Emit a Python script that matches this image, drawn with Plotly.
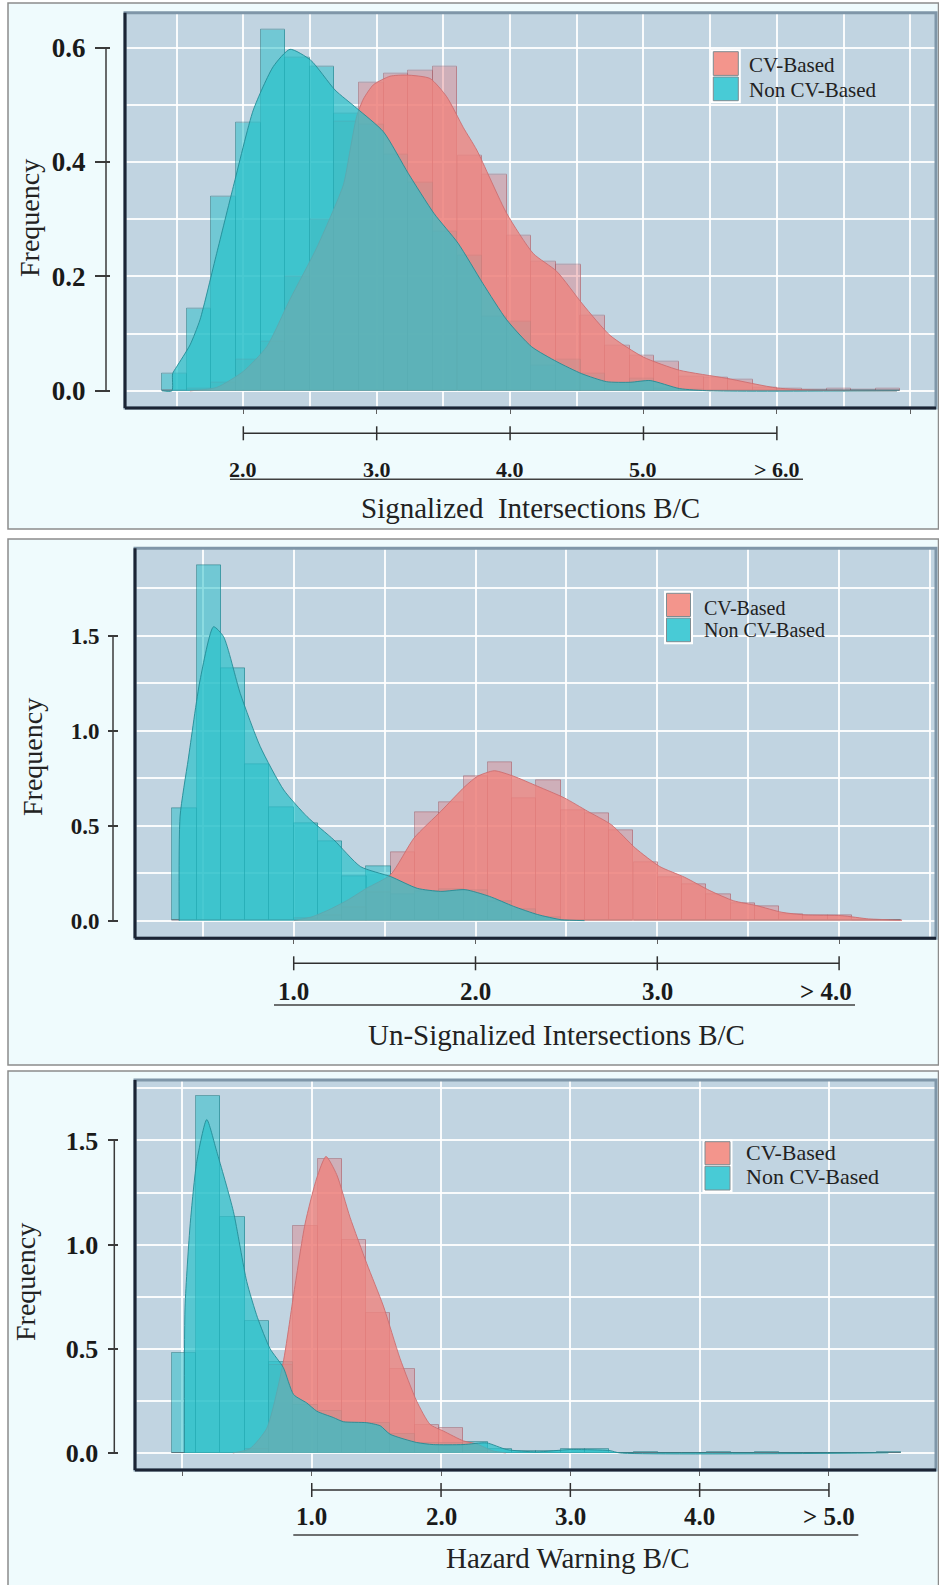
import plotly.graph_objects as go

W, H = 939, 1585

# ---------------- Signalized intersections ----------------
SIG_BIN_W = 0.1845
SIG_CENTERS = [1.484, 1.668, 1.853, 2.037, 2.222, 2.406, 2.591, 2.775, 2.960, 3.144,
               3.329, 3.513, 3.698, 3.882, 4.067, 4.251, 4.436, 4.620, 4.805, 4.989,
               5.174, 5.358, 5.543, 5.727, 5.912, 6.096, 6.281, 6.465, 6.650, 6.834]
SIG_CV = [0.0, 0.004, 0.015, 0.054, 0.086, 0.20, 0.30, 0.47, 0.539, 0.554,
          0.560, 0.566, 0.411, 0.377, 0.271, 0.226, 0.220, 0.132, 0.079, 0.061,
          0.051, 0.025, 0.023, 0.019, 0.006, 0.004, 0.002, 0.003, 0.002, 0.004]
SIG_NONCV = [0.03, 0.144, 0.339, 0.469, 0.632, 0.582, 0.566, 0.485, 0.466, 0.413,
             0.364, 0.278, 0.237, 0.130, 0.120, 0.044, 0.054, 0.030, 0.010, 0.022,
             0.004, 0.002, 0, 0, 0, 0, 0, 0, 0, 0]
SIG_KDE_CV_X = [1.60, 1.80, 2.00, 2.175, 2.35, 2.55, 2.75, 2.80, 2.85, 2.90, 2.975, 3.10,
                3.225, 3.40, 3.525, 3.65, 3.75, 3.975, 4.174, 4.349, 4.549, 4.749, 4.999,
                5.27, 5.62, 6.0, 6.3, 6.9]
SIG_KDE_CV_Y = [0.0, 0.006, 0.034, 0.077, 0.16, 0.25, 0.36, 0.42, 0.48, 0.51, 0.535, 0.55,
                0.552, 0.546, 0.514, 0.46, 0.421, 0.31, 0.24, 0.209, 0.150, 0.097, 0.059,
                0.036, 0.022, 0.005, 0.001, 0.0]
SIG_KDE_NON_X = [1.39, 1.465, 1.47, 1.5, 1.6, 1.675, 1.8, 1.925, 2.075, 2.225, 2.35, 2.505,
                 2.687, 2.85, 3.05, 3.237, 3.43, 3.61, 3.795, 3.975, 4.162, 4.35, 4.537,
                 4.724, 4.9, 5.05, 5.27, 5.5, 6.9]
SIG_KDE_NON_Y = [0.0, 0.0, 0.03, 0.042, 0.08, 0.124, 0.24, 0.357, 0.491, 0.567, 0.597, 0.578,
                 0.526, 0.494, 0.453, 0.38, 0.31, 0.258, 0.188, 0.124, 0.077, 0.051, 0.030,
                 0.016, 0.015, 0.018, 0.004, 0.0, 0.0]
SIG_YTICKS = [0.0, 0.2, 0.4, 0.6]
SIG_XTICKS = [2, 3, 4, 5, 6]
SIG_XLABELS = ["2.0", "3.0", "4.0", "5.0", "> 6.0"]

# ---------------- Un-signalized intersections ----------------
USIG_BIN_W = 0.1335
USIG_CENTERS = [0.399, 0.533, 0.666, 0.800, 0.933, 1.067, 1.200, 1.334, 1.467, 1.601,
                1.734, 1.868, 2.001, 2.135, 2.268, 2.402, 2.535, 2.669, 2.802, 2.936,
                3.069, 3.203, 3.336, 3.470, 3.603, 3.737, 3.870, 4.004, 4.137, 4.271]
USIG_CV = [0, 0, 0, 0, 0, 0.01, 0.03, 0.07, 0.15, 0.36,
           0.572, 0.623, 0.76, 0.835, 0.646, 0.739, 0.581, 0.567, 0.474, 0.307,
           0.226, 0.193, 0.140, 0.091, 0.074, 0.035, 0.030, 0.028, 0.004, 0.002]
USIG_NONCV = [0.591, 1.872, 1.328, 0.823, 0.596, 0.512, 0.418, 0.236, 0.284, 0.14,
              0.154, 0.165, 0.158, 0.10, 0.06, 0.015, 0.003, 0, 0, 0,
              0, 0, 0, 0, 0, 0, 0, 0, 0, 0]
USIG_KDE_CV_X = [1.0, 1.1, 1.2, 1.3, 1.4, 1.533, 1.662, 1.809, 1.943, 2.011, 2.103, 2.21,
                 2.342, 2.489, 2.618, 2.747, 2.879, 3.013, 3.151, 3.289, 3.418, 3.547,
                 3.685, 3.813, 4.015, 4.163, 4.346]
USIG_KDE_CV_Y = [0.0, 0.02, 0.06, 0.11, 0.17, 0.242, 0.435, 0.575, 0.707, 0.76, 0.789, 0.76,
                 0.707, 0.646, 0.575, 0.505, 0.382, 0.285, 0.228, 0.158, 0.105, 0.079,
                 0.044, 0.030, 0.026, 0.009, 0.003]
USIG_KDE_NON_X = [0.37, 0.375, 0.42, 0.485, 0.559, 0.614, 0.706, 0.816, 0.945, 1.074, 1.221,
                  1.368, 1.533, 1.68, 1.809, 1.943, 2.076, 2.21, 2.342, 2.471, 2.6]
USIG_KDE_NON_Y = [0.0, 0.55, 0.85, 1.267, 1.547, 1.495, 1.196, 0.916, 0.688, 0.547, 0.425,
                  0.284, 0.232, 0.17, 0.154, 0.163, 0.128, 0.075, 0.032, 0.005, 0.0]
USIG_YTICKS = [0.0, 0.5, 1.0, 1.5]
USIG_XTICKS = [1, 2, 3, 4]
USIG_XLABELS = ["1.0", "2.0", "3.0", "> 4.0"]

# ---------------- Hazard warning ----------------
HAZ_BIN_W = 0.188
HAZ_CENTERS = [0.011, 0.199, 0.387, 0.575, 0.763, 0.951, 1.139, 1.327, 1.515, 1.703,
               1.891, 2.079, 2.267, 2.455, 2.643, 2.831, 3.019, 3.207, 3.395, 3.583,
               3.771, 3.959, 4.147, 4.335, 4.523, 4.711, 4.899, 5.087, 5.275, 5.463]
HAZ_CV = [0, 0, 0, 0.02, 0.42, 1.087, 1.412, 1.02, 0.67, 0.402,
          0.132, 0.118, 0.01, 0, 0, 0, 0, 0, 0, 0,
          0, 0, 0, 0, 0, 0, 0, 0, 0, 0]
HAZ_NONCV = [0.482, 1.711, 1.132, 0.631, 0.437, 0.232, 0.20, 0.145, 0.145, 0.09,
             0.05, 0.048, 0.051, 0.02, 0.008, 0.008, 0.02, 0.02, 0, 0.005,
             0, 0, 0.005, 0, 0.005, 0, 0, 0, 0, 0.005]
HAZ_KDE_CV_X = [0.39, 0.52, 0.652, 0.78, 0.858, 0.948, 1.039, 1.11, 1.193, 1.296, 1.425,
                1.554, 1.683, 1.812, 1.915, 2.018, 2.172, 2.276, 2.4, 2.5]
HAZ_KDE_CV_Y = [0.0, 0.02, 0.118, 0.437, 0.752, 1.099, 1.32, 1.423, 1.336, 1.131, 0.91,
                0.705, 0.453, 0.248, 0.137, 0.105, 0.058, 0.043, 0.01, 0.0]
HAZ_KDE_NON_X = [0.015, 0.02, 0.06, 0.111, 0.188, 0.265, 0.394, 0.497, 0.58, 0.678, 0.78,
                 0.86, 0.961, 1.04, 1.167, 1.244, 1.425, 1.53, 1.605, 1.812, 1.94, 2.17,
                 2.353, 2.508, 2.74, 2.998, 3.307, 3.38, 5.46]
HAZ_KDE_NON_Y = [0.0, 0.70, 1.10, 1.40, 1.60, 1.447, 1.159, 0.823, 0.65, 0.50, 0.41,
                 0.28, 0.24, 0.20, 0.17, 0.15, 0.145, 0.13, 0.09, 0.05, 0.04, 0.04,
                 0.048, 0.016, 0.005, 0.016, 0.011, 0.0, 0.0]
HAZ_YTICKS = [0.0, 0.5, 1.0, 1.5]
HAZ_XTICKS = [1, 2, 3, 4, 5]
HAZ_XLABELS = ["1.0", "2.0", "3.0", "4.0", "> 5.0"]

SERIES_NAMES = ["CV-Based", "Non CV-Based"]

# ---------------- styling ----------------
FONT = "Liberation Serif"
BOX_BG = "#effbfd"
PLOT_BG = "#c1d4e1"
GRID = "rgba(255,255,255,0.9)"
RED_BAR = "rgba(225,120,125,0.40)"
TEAL_BAR = "rgba(40,190,200,0.52)"
RED_KDE = "rgba(239,131,126,0.80)"
TEAL_KDE = "rgba(42,194,203,0.70)"
RED_EDGE = "rgba(165,95,105,0.55)"
TEAL_EDGE = "rgba(25,120,130,0.55)"
SWATCH = ["#f3958c", "#48cbd6"]


def px(x):
    return x / W


def py(y):
    return 1 - y / H


panels = [
    dict(centers=SIG_CENTERS, width=SIG_BIN_W, cv=SIG_CV, non=SIG_NONCV,
         kcx=SIG_KDE_CV_X, kcy=SIG_KDE_CV_Y, knx=SIG_KDE_NON_X, kny=SIG_KDE_NON_Y,
         yticks=SIG_YTICKS, xticks=SIG_XTICKS, xlabels=SIG_XLABELS, lab_shift=0,
         title="Signalized  Intersections B/C",
         box=(8, 3, 938.5, 529), plot=(125, 12.7, 936, 408),
         xr=[1.113, 7.193], yr=[-0.030, 0.661], xminor=0.5, ydt=0.2, yminor=0.1,
         yaxis_pos=110, yaxis_len=15, yline=106, ytick_size=27,
         bar_y=433.3, lab_y=470, lab_size=22, under=(230, 803, 479.3),
         title_xy=(530, 508), freq_xy=(30, 218),
         sw=(713.3, 738.3, 51.7, 76.2, 100.7), leg_text=(746.7, 65, 90), leg_size=21),
    dict(centers=USIG_CENTERS, width=USIG_BIN_W, cv=USIG_CV, non=USIG_NONCV,
         kcx=USIG_KDE_CV_X, kcy=USIG_KDE_CV_Y, knx=USIG_KDE_NON_X, kny=USIG_KDE_NON_Y,
         yticks=USIG_YTICKS, xticks=USIG_XTICKS, xlabels=USIG_XLABELS, lab_shift=-13,
         title="Un-Signalized Intersections B/C",
         box=(8, 539, 938.5, 1065), plot=(135, 548.3, 936, 938.3),
         xr=[0.127, 4.533], yr=[-0.093, 1.96], xminor=0.5, ydt=0.5, yminor=0.25,
         yaxis_pos=118, yaxis_len=10, yline=113, ytick_size=23,
         bar_y=963.3, lab_y=991.5, lab_size=25, under=(274, 855, 1005),
         title_xy=(556, 1035), freq_xy=(32, 757),
         sw=(666.5, 690.5, 593.3, 617.3, 641.7), leg_text=(702.3, 608.3, 630), leg_size=20),
    dict(centers=HAZ_CENTERS, width=HAZ_BIN_W, cv=HAZ_CV, non=HAZ_NONCV,
         kcx=HAZ_KDE_CV_X, kcy=HAZ_KDE_CV_Y, knx=HAZ_KDE_NON_X, kny=HAZ_KDE_NON_Y,
         yticks=HAZ_YTICKS, xticks=HAZ_XTICKS, xlabels=HAZ_XLABELS, lab_shift=0,
         title="Hazard Warning B/C",
         box=(8, 1071, 938.5, 1595), plot=(135, 1080, 936, 1470),
         xr=[-0.367, 5.828], yr=[-0.082, 1.79], xminor=None, ydt=0.5, yminor=0.25,
         yaxis_pos=117.5, yaxis_len=10, yline=114.3, ytick_size=26,
         bar_y=1490, lab_y=1516.7, lab_size=25, under=(293.3, 858.3, 1535),
         title_xy=(568, 1558), freq_xy=(25, 1282),
         sw=(705, 730, 1141.7, 1165.5, 1190), leg_text=(744, 1152.3, 1176.7), leg_size=22),
]

fig = go.Figure()
shapes = []
annotations = []
layout = {}

for i, p in enumerate(panels, start=1):
    sfx = "" if i == 1 else str(i)
    xa, ya = "x" + sfx, "y" + sfx

    # bar fills
    fig.add_trace(go.Bar(x=p["centers"], y=p["cv"], width=p["width"], xaxis=xa, yaxis=ya,
                         name=SERIES_NAMES[0], marker=dict(color=RED_BAR, line=dict(width=0)),
                         showlegend=False, hoverinfo="skip"))
    fig.add_trace(go.Bar(x=p["centers"], y=p["non"], width=p["width"], xaxis=xa, yaxis=ya,
                         name=SERIES_NAMES[1], marker=dict(color=TEAL_BAR, line=dict(width=0)),
                         showlegend=False, hoverinfo="skip"))
    # density curves
    fig.add_trace(go.Scatter(x=p["kcx"], y=p["kcy"], xaxis=xa, yaxis=ya, mode="lines",
                             name=SERIES_NAMES[0],
                             line=dict(color="rgba(205,110,112,0.9)", width=1,
                                       shape="spline", smoothing=0.6),
                             fill="tozeroy", fillcolor=RED_KDE, showlegend=False))
    fig.add_trace(go.Scatter(x=p["knx"], y=p["kny"], xaxis=xa, yaxis=ya, mode="lines",
                             name=SERIES_NAMES[1],
                             line=dict(color="rgba(35,140,150,0.9)", width=1,
                                       shape="spline", smoothing=0.6),
                             fill="tozeroy", fillcolor=TEAL_KDE, showlegend=False))
    # bar outlines on top
    fig.add_trace(go.Bar(x=p["centers"], y=p["cv"], width=p["width"], xaxis=xa, yaxis=ya,
                         marker=dict(color="rgba(0,0,0,0)", line=dict(color=RED_EDGE, width=1)),
                         showlegend=False, hoverinfo="skip"))
    fig.add_trace(go.Bar(x=p["centers"], y=p["non"], width=p["width"], xaxis=xa, yaxis=ya,
                         marker=dict(color="rgba(0,0,0,0)", line=dict(color=TEAL_EDGE, width=1)),
                         showlegend=False, hoverinfo="skip"))

    x0, y0, x1, y1 = p["plot"]
    xaxis = dict(domain=[px(x0), px(x1)], range=p["xr"], anchor=ya,
                 showgrid=True, gridcolor=GRID, gridwidth=1.5, dtick=1, tick0=0,
                 ticks="outside", ticklen=5, tickcolor="#606060", tickwidth=1,
                 showticklabels=False, zeroline=False, showline=False)
    if p["xminor"]:
        xaxis["minor"] = dict(dtick=p["xminor"], tick0=0, showgrid=True,
                              gridcolor=GRID, gridwidth=1.5, ticks="")
    yaxis = dict(domain=[py(y1), py(y0)], range=p["yr"], anchor="free",
                 position=px(p["yaxis_pos"]), showgrid=True, gridcolor=GRID, gridwidth=1.5,
                 dtick=p["ydt"], tick0=0, tickformat=".1f",
                 minor=dict(dtick=p["yminor"], tick0=0, showgrid=True, gridcolor=GRID,
                            gridwidth=1.5, ticks=""),
                 ticks="outside", ticklen=p["yaxis_len"], tickwidth=1.5, tickcolor="#3a3a3a",
                 ticklabelstandoff=4,
                 tickfont=dict(family=FONT, size=p["ytick_size"], color="#1a1a1a",
                               weight="bold"),
                 zeroline=False, showline=False)
    layout["xaxis" + sfx] = xaxis
    layout["yaxis" + sfx] = yaxis

    # outer panel box
    bx0, by0, bx1, by1 = p["box"]
    shapes.append(dict(type="rect", xref="paper", yref="paper", x0=px(bx0), x1=px(bx1),
                       y0=py(by1), y1=py(by0), fillcolor=BOX_BG,
                       line=dict(color="#8c8c8c", width=1.5), layer="below"))
    # plot background + frame
    shapes.append(dict(type="rect", xref=xa + " domain", yref=ya + " domain",
                       x0=0, x1=1, y0=0, y1=1, fillcolor=PLOT_BG, line=dict(width=0),
                       layer="below"))
    shapes.append(dict(type="rect", xref=xa + " domain", yref=ya + " domain",
                       x0=0, x1=1, y0=0, y1=1, line=dict(color="#7f96a8", width=3)))
    shapes.append(dict(type="line", xref=xa + " domain", yref=ya + " domain",
                       x0=0, x1=0, y0=0, y1=1, line=dict(color="#1b2434", width=3)))
    shapes.append(dict(type="line", xref=xa + " domain", yref=ya + " domain",
                       x0=0, x1=1, y0=0, y1=0, line=dict(color="#1b2434", width=3)))
    # detached y axis line
    shapes.append(dict(type="line", xref="paper", yref=ya, x0=px(p["yline"]),
                       x1=px(p["yline"]), y0=p["yticks"][0], y1=p["yticks"][-1],
                       line=dict(color="#3a3a3a", width=1.5)))
    # detached x range bar with ticks
    shapes.append(dict(type="line", xref=xa, yref="paper", x0=p["xticks"][0],
                       x1=p["xticks"][-1], y0=py(p["bar_y"]), y1=py(p["bar_y"]),
                       line=dict(color="#303030", width=1.5)))
    for j, (t, lab) in enumerate(zip(p["xticks"], p["xlabels"])):
        shapes.append(dict(type="line", xref=xa, yref="paper", x0=t, x1=t,
                           y0=py(p["bar_y"] - 7), y1=py(p["bar_y"] + 7),
                           line=dict(color="#303030", width=1.5)))
        shift = p["lab_shift"] if j == len(p["xticks"]) - 1 else 0
        annotations.append(dict(x=t, xref=xa, y=py(p["lab_y"]), yref="paper", text=lab,
                                showarrow=False, xanchor="center", yanchor="middle",
                                xshift=shift,
                                font=dict(family=FONT, size=p["lab_size"], color="#1a1a1a",
                                          weight="bold")))
    ux0, ux1, uy = p["under"]
    shapes.append(dict(type="line", xref="paper", yref="paper", x0=px(ux0), x1=px(ux1),
                       y0=py(uy), y1=py(uy), line=dict(color="#404040", width=1.5)))
    annotations.append(dict(x=px(p["title_xy"][0]), y=py(p["title_xy"][1]), xref="paper",
                            yref="paper", text=p["title"], showarrow=False,
                            xanchor="center", yanchor="middle",
                            font=dict(family=FONT, size=29, color="#222222")))
    annotations.append(dict(x=px(p["freq_xy"][0]), y=py(p["freq_xy"][1]), xref="paper",
                            yref="paper", text="Frequency", textangle=-90, showarrow=False,
                            xanchor="center", yanchor="middle",
                            font=dict(family=FONT, size=28, color="#222222")))

    # legend: white frame, two swatches, two labels
    sx0, sx1, s_top, s_mid, s_bot = p["sw"]
    shapes.append(dict(type="rect", xref="paper", yref="paper", x0=px(sx0 - 2.5),
                       x1=px(sx1 + 2.5), y0=py(s_bot + 2.5), y1=py(s_top - 2.5),
                       fillcolor="white", line=dict(width=0)))
    for (t0, t1), col in zip([(s_top, s_mid - 0.8), (s_mid + 0.8, s_bot)], SWATCH):
        shapes.append(dict(type="rect", xref="paper", yref="paper", x0=px(sx0), x1=px(sx1),
                           y0=py(t1), y1=py(t0), fillcolor=col,
                           line=dict(color="#7d8c92", width=1)))
    tx, ty0, ty1 = p["leg_text"]
    for name, ty in zip(SERIES_NAMES, [ty0, ty1]):
        annotations.append(dict(x=px(tx), y=py(ty), xref="paper", yref="paper", text=name,
                                showarrow=False, xanchor="left", yanchor="middle",
                                font=dict(family=FONT, size=p["leg_size"], color="#222222")))

fig.update_layout(
    width=W, height=H, margin=dict(l=0, r=0, t=0, b=0),
    paper_bgcolor="white", plot_bgcolor="rgba(0,0,0,0)",
    barmode="overlay", bargap=0, showlegend=False,
    shapes=shapes, annotations=annotations,
    **layout,
)

fig.write_html("out.html", config={"displayModeBar": False},
               post_script="document.body.style.margin='0';document.body.style.overflow='hidden';")
